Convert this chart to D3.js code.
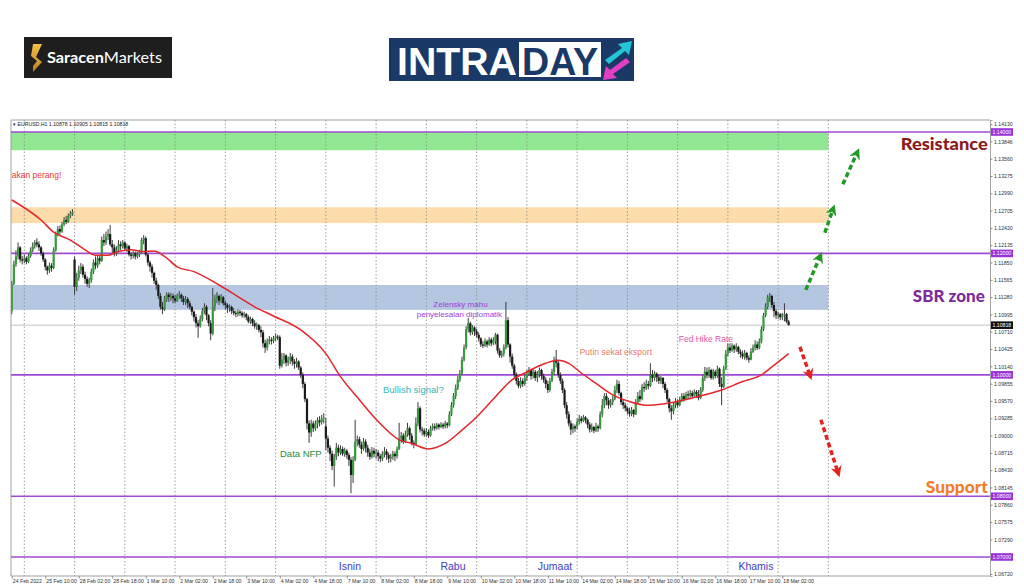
<!DOCTYPE html>
<html><head><meta charset="utf-8">
<script src="https://cdn.jsdelivr.net/npm/d3@7"></script>
<style>body{margin:0;background:#fff;} svg{display:block;font-family:"Liberation Sans",Arial,sans-serif;}</style>
</head><body><svg id="c" width="1024" height="587"></svg>
<script>
// EURUSD H1, bar 0 = 24 Feb 2022 18:00. Values in points: price = 1 + v/10000
const closeV = [1150,1182,1195,1210,1190,1188,
1192,1186,1196,1205,1212,1218,1215,1210,1200,1190,1178,1172,1180,1176,1205,1232,1240,1236,1248,1255,1252,1262,1265,1268,
1145,1160,1172,1178,1165,1158,1150,1156,1170,1185,1180,1192,1188,1222,1218,1228,1232,1215,1210,1200,1206,1215,1212,1218,
1208,1212,1198,1196,1200,1195,1198,1203,1222,1225,1198,1185,1178,1168,1155,1148,1130,1112,1108,1125,1132,1128,1130,1126,
1122,1130,1132,1126,1120,1125,1118,1112,1104,1095,1085,1080,1092,1105,1112,1098,1085,1068,1112,1125,1130,1122,1128,1118,
1115,1110,1112,1105,1102,1100,1104,1102,1098,1100,1095,1088,1092,1085,1080,1082,1074,1070,1052,1045,1055,1058,1056,1060,
1063,1062,1015,1025,1032,1020,1025,1030,1022,1018,1022,1012,1000,985,960,920,905,920,912,918,925,922,928,930,
895,880,870,850,865,880,872,878,870,875,868,860,835,860,890,894,885,878,890,880,872,865,875,870,
872,866,862,870,874,868,862,865,870,866,878,895,900,890,902,912,900,888,885,920,945,910,908,902,
906,900,912,915,912,918,914,918,915,920,917,935,950,965,978,992,1002,1025,1045,1075,1085,1070,1078,1072,
1066,1060,1050,1048,1055,1050,1058,1052,1056,1066,1040,1032,1035,1045,1090,1050,1030,1015,1000,990,982,990,985,995,
1002,1008,998,1005,995,1000,1008,998,992,985,975,990,1005,1025,1020,1000,990,975,950,935,920,910,915,912,
922,928,924,930,926,918,910,914,908,915,912,935,950,965,958,950,955,960,975,985,970,955,950,945,
940,936,942,935,955,965,960,980,978,985,982,1000,995,1002,996,990,995,985,975,960,945,940,950,955,
950,958,965,960,968,966,970,965,972,968,962,975,995,1005,1000,1008,995,1005,998,1010,985,980,1010,1035,
1045,1040,1048,1042,1046,1038,1035,1030,1036,1028,1025,1038,1045,1050,1044,1055,1075,1098,1112,1128,1130,1115,1105,1098,
1100,1095,1098,1100,1087.8,1081.8];
const highV = [1155,1188,1205,1218,1212,1196,
1198,1195,1200,1210,1218,1222,1225,1220,1212,1203,1192,1180,1185,1184,1210,1236,1245,1246,1252,1260,1262,1266,1270,1273,
1195,1168,1180,1184,1182,1170,1162,1160,1175,1190,1195,1196,1198,1228,1232,1236,1240,1247,1222,1215,1212,1222,1220,1222,
1220,1216,1214,1202,1204,1203,1202,1206,1226,1230,1228,1200,1188,1182,1170,1160,1150,1135,1120,1130,1136,1136,1135,1134,
1132,1134,1138,1134,1130,1130,1128,1122,1114,1106,1100,1090,1098,1110,1118,1115,1100,1090,1143,1132,1136,1132,1133,1130,
1122,1118,1116,1114,1110,1106,1108,1107,1105,1104,1102,1098,1096,1094,1090,1086,1084,1080,1074,1058,1060,1064,1062,1064,
1068,1066,1065,1036,1036,1034,1030,1036,1034,1026,1028,1024,1014,1004,988,962,925,926,924,925,930,932,934,937,
929,900,884,875,870,888,885,884,882,880,878,872,865,866,926,900,898,890,896,894,885,878,881,880,
878,876,870,874,881,878,872,870,875,874,882,921,906,904,908,921,915,904,892,930,955,948,914,912,
912,910,916,920,920,921,920,922,921,924,922,940,955,970,984,998,1008,1030,1050,1080,1094,1088,1082,1080,
1076,1070,1062,1056,1060,1058,1062,1061,1062,1069,1068,1044,1040,1050,1120,1095,1052,1035,1018,1004,995,996,994,1000,
1008,1013,1010,1010,1008,1006,1012,1010,1002,996,990,995,1010,1030,1041,1024,1004,994,978,955,940,925,920,918,
928,934,932,934,932,928,922,920,916,921,918,940,960,970,970,962,960,965,982,992,990,972,959,954,
948,946,947,944,960,972,975,985,988,992,990,1019,1008,1006,1004,1000,998,996,988,978,962,950,955,962,
960,964,970,970,972,974,975,974,976,975,975,980,1000,1013,1012,1013,1010,1010,1008,1015,1012,996,1015,1041,
1052,1052,1052,1050,1052,1048,1042,1040,1041,1038,1032,1044,1050,1057,1055,1060,1080,1102,1118,1132,1135,1132,1120,1108,
1104,1102,1102,1118,1102,1090.5];
const lowV = [1100,1148,1178,1190,1185,1182,
1184,1182,1184,1193,1202,1208,1210,1204,1196,1186,1172,1165,1168,1170,1174,1203,1228,1230,1234,1245,1248,1250,1258,1262,
1132,1138,1155,1166,1160,1150,1145,1143,1152,1166,1174,1176,1182,1186,1212,1214,1222,1212,1200,1195,1196,1202,1205,1208,
1204,1202,1195,1190,1192,1190,1192,1194,1200,1215,1195,1180,1170,1160,1150,1140,1125,1108,1100,1105,1120,1120,1122,1118,
1118,1120,1125,1120,1115,1115,1110,1108,1098,1088,1078,1061,1078,1088,1100,1090,1080,1057,1065,1105,1118,1115,1118,1114,
1108,1102,1104,1100,1098,1095,1096,1097,1094,1094,1090,1085,1084,1080,1076,1074,1070,1062,1045,1036,1040,1050,1050,1052,
1056,1057,1010,1012,1018,1014,1015,1018,1015,1010,1012,1008,995,978,955,910,888,898,906,908,912,915,918,920,
876,872,858,843,816,860,866,868,866,865,862,850,805,822,858,882,880,870,875,872,865,860,862,864,
862,858,856,858,864,860,855,856,860,858,862,876,888,886,888,898,893,884,879,884,915,905,900,898,
898,896,898,908,908,910,910,912,911,912,912,915,932,946,960,975,988,1000,1022,1042,1070,1065,1066,1064,
1062,1055,1046,1044,1046,1045,1048,1047,1049,1050,1035,1028,1028,1030,1042,1045,1020,1010,995,984,978,978,980,982,
990,998,992,994,990,988,996,992,987,978,970,972,988,1000,1012,995,985,970,945,928,915,901,904,906,
910,918,920,922,920,912,905,906,904,906,906,910,930,945,950,944,946,950,958,970,966,950,944,940,
935,931,932,930,934,952,955,958,972,975,976,980,988,990,988,985,985,978,970,955,938,926,935,945,
946,948,955,956,958,960,962,962,964,962,958,960,972,990,994,995,992,992,994,995,980,950,978,1008,
1030,1036,1038,1036,1038,1034,1028,1026,1025,1024,1020,1024,1036,1040,1041,1042,1052,1072,1095,1108,1120,1110,1095,1092,
1092,1090,1090,1088,1085,1081.5];
// opens that differ from the previous close (session gaps)
const gapOpenIdx = [0,30,150,270];
const gapOpenVal = [1105,1190,915,915];

// moving average
const maIdx = [0,14,20,28,35,40,46,51,57,63,68,73,79,87,99,108,116,125,138,150,157,166,175,185,191,199,207,215,223,231,239,245,255,261,266,272,279,287,295,303,311,325,339,349,358,363,371];
const maVal = [1288,1255,1235,1222,1206,1197,1197,1203,1206,1203,1204,1195,1178,1170,1148,1129,1112,1097,1074,1035,997,959,923,893,887,878,887,909,934,964,992,1003,1019,1024,1019,1003,986,967,956,950,952,962,975,989,1000,1013,1035];

const priceTicks = ["1.14130","1.13846","1.13560","1.13275","1.12990","1.12705","1.12420","1.12135","1.11850","1.11565","1.11280","1.10995","1.10710","1.10425","1.10140","1.09855","1.09570","1.09285","1.09000","1.08715","1.08430","1.08145","1.07860","1.07575","1.07290","1.06720"];
const levelVals = [1.14, 1.12, 1.10, 1.08, 1.07];
const currentPrice = 1.10818;
const timeIdx = [0,16,32,48,64,80,96,112,128,144,160,176,192,208,224,240,256,272,288,304,320,336,352,368];
const timeLabels = ["24 Feb 2022","25 Feb 10:00","28 Feb 02:00","28 Feb 18:00","1 Mar 10:00","2 Mar 02:00","2 Mar 18:00","3 Mar 10:00","4 Mar 02:00","4 Mar 18:00","7 Mar 10:00","8 Mar 02:00","8 Mar 18:00","9 Mar 10:00","10 Mar 02:00","10 Mar 18:00","11 Mar 10:00","14 Mar 02:00","14 Mar 18:00","15 Mar 10:00","16 Mar 02:00","16 Mar 18:00","17 Mar 10:00","18 Mar 02:00"];
const daySepIdx = [6,30,54,78,102,126,150,174,198,222,246,270,294,318,342,366,390];

const zoneLow = [1.1370, 1.1250, 1.1107];
const zoneHigh = [1.1400, 1.1276, 1.1148];
const zoneColor = ["#92e892", "#fcdcaa", "#b5c7e0"];

const dayNames = ["Isnin","Rabu","Jumaat","Khamis"];
const dayNameIdx = [161.5, 210.7, 259.4, 355.4];

const notes = [
 {t:"akan perang!", i:0, p:1.13242, c:"#e8383a", a:"start", s:8.5, w:"normal", L:0},
 {t:"Zelensky mahu", i:214.3, p:1.11122, c:"#a240d8", a:"middle", s:8, w:"normal", L:0},
 {t:"penyelesaian diplomatik", i:213.8, p:1.10958, c:"#a240d8", a:"middle", s:8, w:"normal", L:0},
 {t:"Putin sekat eksport", i:288.5, p:1.10319, c:"#e87c6c", a:"middle", s:8.5, w:"normal", L:0},
 {t:"Fed Hike Rate", i:331.5, p:1.10533, c:"#e455a8", a:"middle", s:8.5, w:"normal", L:0},
 {t:"Bullish signal?", i:177.3, p:1.09701, c:"#35b5b8", a:"start", s:9.5, w:"normal", L:0},
 {t:"Data NFP", i:128.1, p:1.08647, c:"#2a8a34", a:"start", s:9.5, w:"normal", L:0},
 {t:"Resistance", i:466.1, p:1.13704, c:"#8b1c1c", a:"end", s:17, w:"900", L:87},
 {t:"SBR zone", i:464.7, p:1.11200, c:"#7d2a9c", a:"end", s:17, w:"900", L:72},
 {t:"Support", i:466.1, p:1.08054, c:"#f07d2a", a:"end", s:17, w:"900", L:62}
];
const greenArrows = [[379.2,1.1140,385.9,1.1194],[388.3,1.1234,392.1,1.1272],[396.9,1.1314,403.6,1.1365]];
const redArrows = [[376.4,1.1046,381.1,1.1000],[386.4,1.0926,394.5,1.0840]];

// ---------- drawing ----------
const svg = d3.select("#c");
const plot = {l:11, t:120, r:990, b:576};
const x = d3.scaleLinear().domain([0,390]).range([11.75,828.4]);
const y = d3.scaleLinear().domain([1.066866,1.141977]).range([576,120]);
const P = v => 1 + v/10000;

svg.append("rect").attr("width",1024).attr("height",587).attr("fill","#fff");

// logos
const lg = svg.append("g");
lg.append("rect").attr("x",24).attr("y",37).attr("width",148).attr("height",41).attr("fill","#1e1e1e");
const gold = lg.append("defs").append("linearGradient").attr("id","gold").attr("x1",0).attr("y1",0).attr("x2",0).attr("y2",1);
gold.append("stop").attr("offset",0).attr("stop-color","#f3c14a");
gold.append("stop").attr("offset",1).attr("stop-color","#b9801c");
lg.append("path").attr("d","M33,44 L42,44 L36,57 L42,62 L33,72 L33,66 L37,61 L31,56 Z").attr("fill","url(#gold)");
const st = lg.append("text").attr("x",47).attr("y",63).attr("fill","#fff").attr("font-size",15).attr("font-family","Lato, 'Open Sans', sans-serif")
  .attr("textLength",115).attr("lengthAdjust","spacingAndGlyphs");
st.append("tspan").attr("font-weight","bold").text("Saracen");
st.append("tspan").text("Markets");

lg.append("rect").attr("x",389).attr("y",38).attr("width",245).attr("height",43).attr("fill","#1b3966");
lg.append("text").attr("x",397).attr("y",75).attr("fill","#fff").attr("font-size",38).attr("font-weight","bold")
  .attr("textLength",120).attr("lengthAdjust","spacingAndGlyphs").text("INTRA");
lg.append("rect").attr("x",519).attr("y",42).attr("width",82).attr("height",35).attr("fill","#fff");
lg.append("text").attr("x",522).attr("y",75).attr("fill","#1b3966").attr("font-size",38).attr("font-weight","bold")
  .attr("textLength",76).attr("lengthAdjust","spacingAndGlyphs").text("DAY");
lg.append("path").attr("d","M605,60 L622,48 L618,44 L632,41 L629,55 L625,51 L609,64 Z").attr("fill","#22c6d6");
lg.append("path").attr("d","M630,62 L613,74 L617,78 L603,80 L606,66 L610,70 L626,58 Z").attr("fill","#e23fc4");

// plot area
const clip = svg.append("defs").append("clipPath").attr("id","pc");
clip.append("rect").attr("x",plot.l).attr("y",plot.t).attr("width",plot.r-plot.l).attr("height",plot.b-plot.t);
const g = svg.append("g").attr("clip-path","url(#pc)");

// zones
g.selectAll("rect.zone").data(zoneLow).enter().append("rect").attr("class","zone")
  .attr("x",plot.l).attr("width",(d,i)=>x(390)-plot.l)
  .attr("y",(d,i)=>y(zoneHigh[i])).attr("height",(d,i)=>y(zoneLow[i])-y(zoneHigh[i]))
  .attr("fill",(d,i)=>zoneColor[i]);

// day separators
g.selectAll("line.sep").data(daySepIdx).enter().append("line")
  .attr("x1",d=>x(d)).attr("x2",d=>x(d)).attr("y1",plot.t).attr("y2",plot.b)
  .attr("stroke","#8a8a8a").attr("stroke-width",0.8).attr("stroke-dasharray","1.5,2");

// current price line
g.append("line").attr("x1",plot.l).attr("x2",plot.r).attr("y1",y(currentPrice)).attr("y2",y(currentPrice))
  .attr("stroke","#c4c4c4").attr("stroke-width",1);

// level lines
g.selectAll("line.lvl").data(levelVals).enter().append("line")
  .attr("x1",plot.l).attr("x2",plot.r).attr("y1",d=>y(d)).attr("y2",d=>y(d))
  .attr("stroke","#a04ad4").attr("stroke-width",1.6);

// candles
const bars = closeV.map((c,i)=>{
  const gi = gapOpenIdx.indexOf(i);
  const o = gi>=0 ? gapOpenVal[gi] : closeV[i-1];
  return {i, o:P(o), c:P(c), h:P(Math.max(highV[i],o,c)), l:P(Math.min(lowV[i],o,c))};
});
const cg = g.append("g");
cg.selectAll("line.wick").data(bars).enter().append("line")
  .attr("x1",d=>x(d.i)).attr("x2",d=>x(d.i)).attr("y1",d=>y(d.h)).attr("y2",d=>y(d.l))
  .attr("stroke","#3c3c3c").attr("stroke-width",1);
cg.selectAll("rect.body").data(bars).enter().append("rect")
  .attr("x",d=>x(d.i)-1.1).attr("width",2.2)
  .attr("y",d=>y(Math.max(d.o,d.c))).attr("height",d=>Math.max(1,Math.abs(y(d.o)-y(d.c))))
  .attr("fill",d=>d.c>=d.o?"#389a3c":"#1a1a1a");

// moving average
g.append("path").datum(maIdx.map((d,k)=>[d,P(maVal[k])]))
  .attr("d",d3.line().x(d=>x(d[0])).y(d=>y(d[1])).curve(d3.curveMonotoneX))
  .attr("fill","none").attr("stroke","#e3262b").attr("stroke-width",1.5);

// frame
svg.append("path").attr("d",`M${plot.l},${plot.b} L${plot.l},${plot.t} L${plot.r},${plot.t}`).attr("fill","none").attr("stroke","#8c8c8c").attr("stroke-width",0.8);
svg.append("line").attr("x1",plot.l).attr("x2",plot.r).attr("y1",plot.b).attr("y2",plot.b).attr("stroke","#8c8c8c").attr("stroke-width",0.8);

// header
svg.append("text").attr("x",13).attr("y",125.5).attr("font-size",5.2).attr("fill","#222")
  .text("\u25BE EURUSD,H1  1.10878 1.10905 1.10815 1.10818");

// price axis
const ya = svg.append("g").attr("transform",`translate(${plot.r},0)`)
  .call(d3.axisRight(y).tickValues(priceTicks.map(Number)).tickFormat((d,i)=>priceTicks[i]).tickSize(2.5).tickPadding(1.5));
ya.select(".domain").attr("stroke","#8c8c8c").attr("stroke-width",0.8);
ya.selectAll(".tick line").attr("stroke","#8c8c8c");
ya.selectAll(".tick text").attr("font-size",5.2).attr("fill","#333").attr("font-family","Liberation Sans, Arial, sans-serif");

// highlighted level labels
const lv = svg.append("g");
lv.selectAll("rect").data(levelVals).enter().append("rect")
  .attr("x",plot.r+1).attr("y",d=>y(d)-3.8).attr("width",22).attr("height",7.6).attr("fill","#9b34d6");
lv.selectAll("text").data(levelVals).enter().append("text")
  .attr("x",plot.r+2.5).attr("y",d=>y(d)+1.9).attr("font-size",5.2).attr("fill","#fff").text(d=>d.toFixed(5));
svg.append("rect").attr("x",plot.r+1).attr("y",y(currentPrice)-3.8).attr("width",22).attr("height",7.6).attr("fill","#111");
svg.append("text").attr("x",plot.r+2.5).attr("y",y(currentPrice)+1.9).attr("font-size",5.2).attr("fill","#fff").text(currentPrice.toFixed(5));

// time axis
const xa = svg.append("g").attr("transform",`translate(0,${plot.b})`)
  .call(d3.axisBottom(x).tickValues(timeIdx).tickFormat((d,i)=>timeLabels[i]).tickSize(2.5).tickPadding(1));
xa.select(".domain").remove();
xa.selectAll(".tick line").attr("stroke","#8c8c8c");
xa.selectAll(".tick text").attr("font-size",5.2).attr("fill","#333").attr("text-anchor","start").attr("dx",0.5)
  .attr("font-family","Liberation Sans, Arial, sans-serif");

// weekday names
svg.selectAll("text.day").data(dayNames).enter().append("text")
  .attr("x",(d,i)=>x(dayNameIdx[i])).attr("y",y(1.06786)).attr("text-anchor","middle")
  .attr("font-size",10.5).attr("fill","#3d3dc2").text(d=>d);

// notes
const nt = svg.selectAll("text.note").data(notes).enter().append("text")
  .attr("x",d=>x(d.i)).attr("y",d=>y(d.p)).attr("text-anchor",d=>d.a)
  .attr("font-size",d=>d.s).attr("font-weight",d=>d.w).attr("fill",d=>d.c).text(d=>d.t);
nt.filter(d=>d.L>0).attr("font-family","Lato, 'Liberation Sans', sans-serif")
  .attr("textLength",d=>d.L).attr("lengthAdjust","spacingAndGlyphs");

// arrows
const defs = svg.append("defs");
[["ag","#1f9a24"],["ar","#e52222"]].forEach(([id,col])=>{
  defs.append("marker").attr("id",id).attr("viewBox","0 0 10 10").attr("refX",5).attr("refY",5)
    .attr("markerWidth",3.2).attr("markerHeight",3.2).attr("orient","auto")
    .append("path").attr("d","M0,0 L10,5 L0,10 L3,5 Z").attr("fill",col);
});
svg.selectAll("line.ga").data(greenArrows).enter().append("line")
  .attr("x1",d=>x(d[0])).attr("y1",d=>y(d[1])).attr("x2",d=>x(d[2])).attr("y2",d=>y(d[3]))
  .attr("stroke","#1f9a24").attr("stroke-width",3.5).attr("stroke-dasharray","5,3").attr("marker-end","url(#ag)");
svg.selectAll("line.ra").data(redArrows).enter().append("line")
  .attr("x1",d=>x(d[0])).attr("y1",d=>y(d[1])).attr("x2",d=>x(d[2])).attr("y2",d=>y(d[3]))
  .attr("stroke","#e52222").attr("stroke-width",3.5).attr("stroke-dasharray","5,3").attr("marker-end","url(#ar)");
</script>
</body></html>
